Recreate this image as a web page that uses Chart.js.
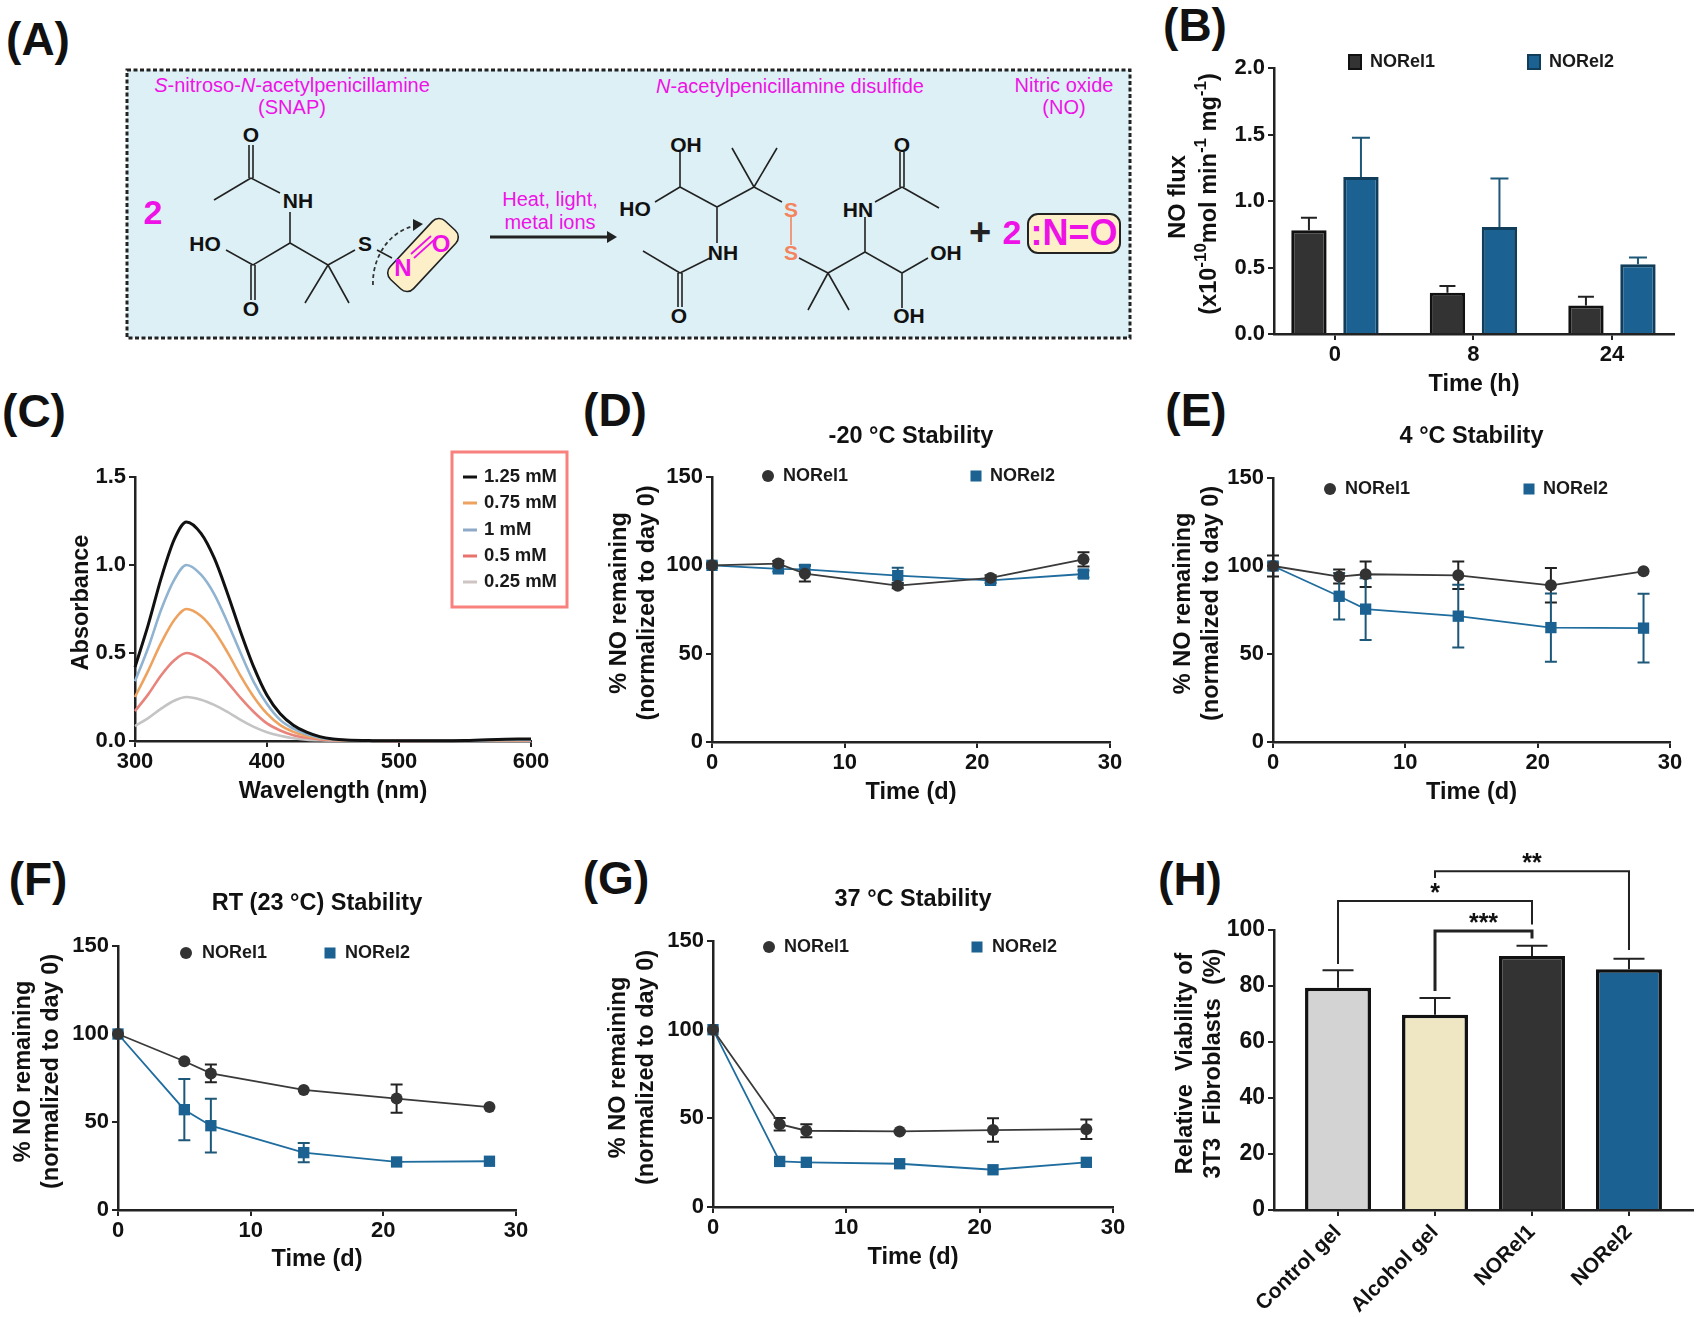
<!DOCTYPE html>
<html>
<head>
<meta charset="utf-8">
<title>NO release panels</title>
<script src="https://cdn.jsdelivr.net/npm/chart.js@4"></script>
<style>
  html, body { margin: 0; background: #fff; }
  #page { position: relative; width: 1697px; height: 1317px; overflow: hidden; }
  canvas { position: absolute; }
  svg { position: absolute; left: 0; top: 0; }
  svg text { font-family: "Liberation Sans", Arial, sans-serif; dominant-baseline: central; text-anchor: middle; }
  .lab { font-size: 46px; font-weight: bold; fill: #111; }
  .pink { font-size: 20px; fill: #ee12e6; }
  .atom { font-size: 21px; font-weight: bold; fill: #111; }
  .big { font-weight: bold; fill: #ee12e6; }
  .bond { stroke: #222; stroke-width: 1.6; fill: none; }
</style>
</head>
<body>
<div id="page">
<svg width="1697" height="1317">
  <text class="lab" x="38" y="39">(A)</text>
  <text class="lab" x="1195" y="25">(B)</text>
  <text class="lab" x="34" y="411">(C)</text>
  <text class="lab" x="615" y="410">(D)</text>
  <text class="lab" x="1196" y="410">(E)</text>
  <text class="lab" x="38" y="879">(F)</text>
  <text class="lab" x="616" y="878">(G)</text>
  <text class="lab" x="1190" y="879">(H)</text>

  <rect x="127" y="70" width="1003" height="268" fill="#dcf0f5" stroke="#222" stroke-width="3" stroke-dasharray="4 2.5"/>
  <text class="pink" x="292" y="85"><tspan font-style="italic">S</tspan>-nitroso-<tspan font-style="italic">N</tspan>-acetylpenicillamine</text>
  <text class="pink" x="292" y="107">(SNAP)</text>
  <text class="pink" x="790" y="86"><tspan font-style="italic">N</tspan>-acetylpenicillamine disulfide</text>
  <text class="pink" x="1064" y="85">Nitric oxide</text>
  <text class="pink" x="1064" y="107">(NO)</text>
  <text class="pink" x="550" y="199">Heat, light,</text>
  <text class="pink" x="550" y="222">metal ions</text>
  <text class="big" font-size="34" x="153" y="212">2</text>

  <!-- SNAP -->
  <rect x="383" y="239" width="80" height="32" rx="9" transform="rotate(-47 423 255)" fill="#fdf0c8" stroke="#222" stroke-width="1.6"/>
  <path class="bond" d="M249 145V178M253 145V178M251 178L214 200M251 178L280 193M290 212V243M290 243L253 265M290 243L328 265M226 250L253 265M251 265V300M255 265V300M328 265L355 250M328 265L305 303M328 265L349 303M377 250L392 258"/>
  <path d="M373 285C372 262 385 232 417 225" stroke="#333" stroke-width="1.8" stroke-dasharray="4 3" fill="none"/>
  <path d="M423 224L413 219V231Z" fill="#222"/>
  <path d="M411 254L431 236M414 258L434 240" stroke="#ee12e6" stroke-width="1.8"/>
  <text class="atom" x="251" y="134">O</text>
  <text class="atom" x="298" y="200">NH</text>
  <text class="atom" x="205" y="243">HO</text>
  <text class="atom" x="251" y="308">O</text>
  <text class="atom" x="365" y="243">S</text>
  <text class="big" font-size="24" x="403" y="267">N</text>
  <text class="big" font-size="24" x="441" y="243">O</text>

  <!-- arrow -->
  <path d="M490 237H610" stroke="#222" stroke-width="3"/>
  <path d="M617 237L607 231V243Z" fill="#222"/>

  <!-- disulfide -->
  <path class="bond" d="M680 152V187M680 187L655 202M680 187L717 207M717 207L754 187M754 187L732 148M754 187L777 148M754 187L782 202M717 207V243M710 258L680 273M680 273L643 251M678 273V307M682 273V307M799 258L828 273M828 273L808 310M828 273L849 310M828 273L865 252M865 252V217M875 202L902 187M902 187L939 208M900 187V152M904 187V152M865 252L902 273M902 273L928 258M902 273V308"/>
  <path d="M791 217V245" stroke="#f4845f" stroke-width="1.6"/>
  <text class="atom" x="686" y="144">OH</text>
  <text class="atom" x="635" y="208">HO</text>
  <text class="atom" x="723" y="252">NH</text>
  <text class="atom" x="679" y="315">O</text>
  <text class="atom" x="791" y="209" style="fill:#f4845f">S</text>
  <text class="atom" x="791" y="252" style="fill:#f4845f">S</text>
  <text class="atom" x="858" y="209">HN</text>
  <text class="atom" x="902" y="144">O</text>
  <text class="atom" x="946" y="252">OH</text>
  <text class="atom" x="909" y="315">OH</text>

  <text font-size="38" font-weight="bold" fill="#222" x="980" y="232">+</text>
  <text class="big" font-size="34" x="1012" y="232">2</text>
  <rect x="1028" y="214" width="92" height="39" rx="10" fill="#fdf0c8" stroke="#222" stroke-width="2"/>
  <text class="big" font-size="36" x="1074" y="232">:N=O</text>
</svg>
</div>

<script>
const FONT = '"Liberation Sans", Arial, sans-serif'
const DARK = '#333333', BLUE = '#1b6191'

// B - NO flux
const fluxTimes = ['0', '8', '24']
const fluxNORel1 = [0.78, 0.31, 0.215]
const fluxNORel1Err = [0.095, 0.05, 0.065]
const fluxNORel2 = [1.18, 0.805, 0.525]
const fluxNORel2Err = [0.295, 0.365, 0.05]

// C - absorbance
const wavelengths = [300, 310, 320, 330, 339, 350, 360, 370, 380, 390, 400, 410, 420, 430, 440, 450, 460, 480, 500, 550, 590, 600]
const abs125 = [.42, .66, .93, 1.15, 1.245, 1.18, 1.04, .84, .62, .42, .26, .155, .09, .05, .025, .012, .006, .002, .001, .003, .012, .012]
const abs100 = [.34, .53, .75, .92, 1.0, .945, .835, .675, .50, .335, .21, .12, .07, .038, .019, .009, .004, .001, .001, .002, .008, .008]
const abs075 = [.25, .40, .56, .69, .75, .71, .625, .505, .37, .25, .155, .09, .052, .028, .014, .007, .003, .001, .001, .002, .005, .006]
const abs050 = [.17, .265, .375, .46, .50, .47, .415, .335, .245, .165, .10, .06, .033, .018, .009, .004, .002, .001, 0, .001, .004, .004]
const abs025 = [.085, .13, .185, .23, .25, .235, .205, .165, .12, .08, .05, .03, .016, .008, .004, .002, .001, 0, 0, .001, .002, .002]

// D to G - stability
const days = [0, 5, 7, 14, 21, 28]
const minus20Rel1 = [100, 101, 95.3, 88.5, 92.9, 103.4]
const minus20Rel1Err = [1.5, 1.5, 4.5, 1.5, 1.5, 4]
const minus20Rel2 = [100, 98, 97.7, 94.2, 91.5, 95.1]
const minus20Rel2Err = [1.5, 1.5, 2.5, 4.5, 1.5, 2]
const fourRel1 = [100, 94, 95.3, 94.7, 89, 97]
const fourRel1Err = [5.9, 4, 7.2, 7.8, 9.8, 0]
const fourRel2 = [100, 82.8, 75.5, 71.5, 65, 64.7]
const fourRel2Err = [2, 13.2, 17.5, 17.8, 19.4, 19.5]
const rtRel1 = [100, 84.5, 77.6, 68.2, 63.3, 58.5]
const rtRel1Err = [0, 0, 5, 0, 8, 0]
const rtRel2 = [100, 57, 47.9, 32.6, 27.3, 27.7]
const rtRel2Err = [0, 17.4, 15.3, 5.5, 0, 0]
const warmRel1 = [100, 46.7, 43, 42.6, 43.4, 43.9]
const warmRel1Err = [0, 3.5, 3.7, 0.5, 6.6, 5.5]
const warmRel2 = [100, 25.7, 25.2, 24.4, 21, 25.2]
const warmRel2Err = [0, 0, 0, 0, 0, 0]

// H - viability
const gels = ['Control gel', 'Alcohol gel', 'NORel1', 'NORel2']
const viability = [79.4, 69.7, 90.7, 86]
const viabilityErr = [6.2, 6, 3.7, 3.7]
const gelColors = ['#d3d3d3', '#efe7c4', DARK, BLUE]
const sigLabels = ['**', '*', '***']
const sigFrom = [1, 0, 1]
const sigTo = [3, 2, 2]
const sigLevel = [121, 110.4, 99.6]
const sigFromEnd = [118.6, 87.9, 78.2]
const sigToEnd = [92.9, 102, 97]

const page = document.getElementById('page')

// error bars, from each dataset's own errors array
const errorBars = {
  id: 'errorBars',
  beforeDatasetsDraw(chart) {
    const ctx = chart.ctx, y = chart.scales.y
    chart.data.datasets.forEach((ds, i) => {
      if (!ds.errors) return
      const meta = chart.getDatasetMeta(i)
      ctx.save()
      ctx.strokeStyle = ds.errorColor
      ctx.lineWidth = 2
      ds.errors.forEach((e, j) => {
        if (!e) return
        const x = meta.data[j].x
        const v = y.getValueForPixel(meta.data[j].y)
        const top = y.getPixelForValue(v + e)
        const bot = ds.upOnly ? meta.data[j].y : y.getPixelForValue(v - e)
        ctx.beginPath()
        ctx.moveTo(x, top); ctx.lineTo(x, bot)
        ctx.moveTo(x - ds.capSize, top); ctx.lineTo(x + ds.capSize, top)
        if (!ds.upOnly) { ctx.moveTo(x - ds.capSize, bot); ctx.lineTo(x + ds.capSize, bot) }
        ctx.stroke()
      })
      ctx.restore()
    })
  }
}

// hand placed legends like the original panels, page coordinates
const floatLegend = {
  id: 'floatLegend',
  afterDraw(chart, args, opts) {
    if (!opts.items) return
    const ctx = chart.ctx
    const ox = chart.canvas.offsetLeft, oy = chart.canvas.offsetTop
    ctx.save()
    if (opts.box) {
      ctx.strokeStyle = '#f8817e'
      ctx.lineWidth = 3
      ctx.strokeRect(opts.box[0] - ox, opts.box[1] - oy, opts.box[2], opts.box[3])
    }
    ctx.font = 'bold ' + opts.size + 'px ' + FONT
    ctx.textBaseline = 'middle'
    opts.items.forEach(it => {
      const mx = it.mx - ox, y = it.y - oy
      ctx.fillStyle = it.color
      if (it.mark === 'circle') {
        ctx.beginPath(); ctx.arc(mx, y, 6, 0, Math.PI * 2); ctx.fill()
      } else if (it.mark === 'square') {
        ctx.fillRect(mx - 5.5, y - 5.5, 11, 11)
      } else if (it.mark === 'bar') {
        ctx.fillRect(mx - 6, y - 7, 12, 14)
        ctx.strokeStyle = it.edge; ctx.lineWidth = 2
        ctx.strokeRect(mx - 6, y - 7, 12, 14)
      } else {
        ctx.strokeStyle = it.color; ctx.lineWidth = 3
        ctx.beginPath(); ctx.moveTo(mx - 7, y); ctx.lineTo(mx + 7, y); ctx.stroke()
      }
      ctx.fillStyle = '#1a1a1a'
      ctx.fillText(it.label, it.tx - ox, y)
    })
    ctx.restore()
  }
}

// significance brackets of panel H
const brackets = {
  id: 'brackets',
  afterDraw(chart) {
    const ctx = chart.ctx, x = chart.scales.x, y = chart.scales.y
    ctx.save()
    ctx.strokeStyle = '#222'
    ctx.fillStyle = '#111'
    ctx.font = 'bold 25px ' + FONT
    ctx.textAlign = 'center'
    ctx.textBaseline = 'middle'
    sigLabels.forEach((s, i) => {
      const a = x.getPixelForValue(sigFrom[i]), b = x.getPixelForValue(sigTo[i])
      const lvl = y.getPixelForValue(sigLevel[i])
      ctx.lineWidth = s === '***' ? 3 : 2
      ctx.beginPath()
      ctx.moveTo(a, y.getPixelForValue(sigFromEnd[i]))
      ctx.lineTo(a, lvl); ctx.lineTo(b, lvl)
      ctx.lineTo(b, y.getPixelForValue(sigToEnd[i]))
      ctx.stroke()
      ctx.fillText(s, (a + b) / 2, lvl - 7)
    })
    ctx.restore()
  }
}

// panel B y title, it needs real superscripts
const fluxTitle = {
  id: 'fluxTitle',
  afterDraw(chart) {
    const ctx = chart.ctx
    const parts = [['(x10'], ['-10', 1], ['mol min'], ['-1', 1], [' mg'], ['-1', 1], [')']]
    const big = 'bold 23.5px ' + FONT, small = 'bold 17px ' + FONT
    let len = 0
    parts.forEach(p => { ctx.font = p[1] ? small : big; len += ctx.measureText(p[0]).width })
    const midY = 194 - chart.canvas.offsetTop
    ctx.save()
    ctx.fillStyle = '#111'
    ctx.textBaseline = 'middle'
    ctx.font = big
    ctx.textAlign = 'center'
    ctx.translate(1179 - chart.canvas.offsetLeft, midY)
    ctx.rotate(-Math.PI / 2)
    ctx.fillText('NO flux', -3, 0)
    ctx.textAlign = 'left'
    let at = -len / 2
    parts.forEach(p => {
      ctx.font = p[1] ? small : big
      ctx.fillText(p[0], at, 31 - (p[1] ? 9 : 0))
      at += ctx.measureText(p[0]).width
    })
    ctx.restore()
  }
}

function axisBits(size) {
  return {
    grid: { offset: false, drawOnChartArea: false, drawTicks: true, tickLength: 6, color: '#222', lineWidth: 2 },
    border: { color: '#222', width: 2.5 },
    font: { family: FONT, weight: 'bold', size: size }
  }
}

// p holds the canvas box (left, top, right, bottom) and the plot box (pl, pt, pr, pb)
function panel(p, type, datasets, xOpts, yOpts, plugins, legend) {
  const c = document.createElement('canvas')
  c.width = p.right - p.left
  c.height = p.bottom - p.top
  c.style.left = p.left + 'px'
  c.style.top = p.top + 'px'
  page.appendChild(c)
  const bits = axisBits(p.tick)
  const titleFont = { family: FONT, weight: 'bold', size: 23.5, lineHeight: 1.2 }
  const scales = {
    x: Object.assign({
      offset: false,
      grid: bits.grid, border: bits.border,
      afterFit: s => { s.height = p.bottom - p.pb }
    }, xOpts),
    y: {
      type: 'linear', min: yOpts.min, max: yOpts.max,
      grid: bits.grid, border: bits.border,
      ticks: { font: bits.font, color: '#111', stepSize: yOpts.step, padding: 3, callback: yOpts.fmt },
      title: {
        display: !!yOpts.title, text: yOpts.title, color: '#111', padding: 0,
        font: titleFont
      },
      afterFit: s => { s.width = p.pl - p.left }
    }
  }
  scales.x.ticks = Object.assign({ font: bits.font, color: '#111', padding: 2, maxRotation: 0, autoSkip: false }, xOpts.ticks)
  if (xOpts.title) scales.x.title = { display: true, text: xOpts.title, color: '#111', padding: 0, font: titleFont }
  let titleOpt = { display: false }
  if (p.heading) {
    const h = 23.5 * 1.2
    titleOpt = {
      display: true, text: p.heading, color: '#111', fullSize: false,
      font: { family: FONT, weight: 'bold', size: 23.5, lineHeight: 1.2 },
      padding: { top: 0, bottom: p.pt - p.top - h }
    }
  }
  new Chart(c, {
    type: type,
    data: { datasets: datasets },
    plugins: plugins,
    options: {
      responsive: false, animation: false, devicePixelRatio: 1,
      layout: { padding: { left: 0, right: p.right - p.pr, top: p.heading ? 0 : p.pt - p.top, bottom: 0 } },
      scales: scales,
      plugins: { legend: { display: false }, tooltip: { enabled: false }, title: titleOpt, floatLegend: legend || {} }
    }
  })
}

const pts = (xs, ys) => ys.map((v, i) => ({ x: xs[i], y: v }))

// B
panel({ left: 1158, top: 40, right: 1697, bottom: 399, pl: 1274, pt: 68, pr: 1674, pb: 334, tick: 22 }, 'bar', [
  { label: 'NORel1', data: pts([0, 1, 2], fluxNORel1), errors: fluxNORel1Err, upOnly: true, capSize: 8, errorColor: '#222',
    backgroundColor: DARK, borderColor: '#111', borderWidth: 3, borderSkipped: 'bottom', categoryPercentage: 0.751, barPercentage: 0.68 },
  { label: 'NORel2', data: pts([0, 1, 2], fluxNORel2), errors: fluxNORel2Err, upOnly: true, capSize: 9, errorColor: '#1d5878',
    backgroundColor: BLUE, borderColor: '#103d5a', borderWidth: 3, borderSkipped: 'bottom', categoryPercentage: 0.751, barPercentage: 0.68 }
], {
  type: 'linear', min: -0.44, max: 2.448,
  afterBuildTicks: s => { s.ticks = fluxTimes.map((t, i) => ({ value: i })) },
  ticks: { callback: v => fluxTimes[v] },
  title: 'Time (h)'
}, { min: 0, max: 2, step: 0.5, fmt: v => v.toFixed(1) }, [errorBars, floatLegend, fluxTitle], {
  size: 18, items: [
    { label: 'NORel1', mark: 'bar', color: DARK, edge: '#111', mx: 1355, tx: 1370, y: 62 },
    { label: 'NORel2', mark: 'bar', color: BLUE, edge: '#103d5a', mx: 1534, tx: 1549, y: 62 }
  ]
})

// C
const absLine = (label, ys, color, w) => ({
  label: label, data: pts(wavelengths, ys), borderColor: color, borderWidth: w,
  pointRadius: 0, cubicInterpolationMode: 'monotone', clip: false
})
panel({ left: 67, top: 440, right: 575, bottom: 806, pl: 135, pt: 477, pr: 531, pb: 741, tick: 22 }, 'line', [
  absLine('1.25 mM', abs125, '#111111', 3),
  absLine('1 mM', abs100, '#8fb3d0', 2.6),
  absLine('0.75 mM', abs075, '#eda35f', 2.6),
  absLine('0.5 mM', abs050, '#e8847c', 2.6),
  absLine('0.25 mM', abs025, '#c4c4c4', 2.6)
], {
  type: 'linear', min: 300, max: 600,
  ticks: { stepSize: 100 },
  title: 'Wavelength (nm)'
}, { min: 0, max: 1.5, step: 0.5, fmt: v => v.toFixed(1), title: '  Absorbance' }, [floatLegend], {
  size: 18.5, box: [452, 452, 115, 155], items: [
    { label: '1.25 mM', mark: 'line', color: '#111111', mx: 470, tx: 484, y: 477 },
    { label: '0.75 mM', mark: 'line', color: '#eda35f', mx: 470, tx: 484, y: 503 },
    { label: '1 mM', mark: 'line', color: '#8fa9c8', mx: 470, tx: 484, y: 530 },
    { label: '0.5 mM', mark: 'line', color: '#e8736c', mx: 470, tx: 484, y: 556 },
    { label: '0.25 mM', mark: 'line', color: '#cfc4c4', mx: 470, tx: 484, y: 582 }
  ]
})

// D to G share everything but the numbers
function stability(p, rel1, rel1Err, rel2, rel2Err, legendAt) {
  const series = (label, ys, errs, style, color, line, errCol, r) => ({
    label: label, data: pts(days, ys), errors: errs, capSize: 6, errorColor: errCol,
    borderColor: line, borderWidth: 1.8, tension: 0, clip: false,
    pointStyle: style, pointRadius: r, pointBackgroundColor: color, pointBorderWidth: 0
  })
  panel(Object.assign({ tick: 22 }, p), 'line', [
    series('NORel1', rel1, rel1Err, 'circle', DARK, '#3a3a3a', '#222', 6),
    series('NORel2', rel2, rel2Err, 'rect', BLUE, '#1f6c9e', '#1d5878', 8)
  ], {
    type: 'linear', min: 0, max: 30,
    ticks: { stepSize: 10 },
    title: 'Time (d)'
  }, {
    min: 0, max: 150, step: 50,
    title: ['  % NO remaining', '  (normalized to day 0)']
  }, [errorBars, floatLegend], {
    size: 18, items: [
      { label: 'NORel1', mark: 'circle', color: DARK, mx: legendAt[0], tx: legendAt[1], y: legendAt[4] },
      { label: 'NORel2', mark: 'square', color: BLUE, mx: legendAt[2], tx: legendAt[3], y: legendAt[4] }
    ]
  })
}
stability({ left: 605, top: 422, right: 1140, bottom: 807, pl: 712, pt: 477, pr: 1110, pb: 742, heading: '-20 °C Stability' },
  minus20Rel1, minus20Rel1Err, minus20Rel2, minus20Rel2Err, [768, 783, 976, 990, 476])
stability({ left: 1169, top: 422, right: 1697, bottom: 807, pl: 1273, pt: 478, pr: 1670, pb: 742, heading: '4 °C Stability' },
  fourRel1, fourRel1Err, fourRel2, fourRel2Err, [1330, 1345, 1529, 1543, 489])
stability({ left: 9, top: 889, right: 546, bottom: 1274, pl: 118, pt: 946, pr: 516, pb: 1210, heading: 'RT (23 °C) Stability' },
  rtRel1, rtRel1Err, rtRel2, rtRel2Err, [186, 202, 330, 345, 953])
stability({ left: 604, top: 885, right: 1143, bottom: 1272, pl: 713, pt: 941, pr: 1113, pb: 1207, heading: '37 °C Stability' },
  warmRel1, warmRel1Err, warmRel2, warmRel2Err, [769, 784, 977, 992, 947])

// H
panel({ left: 1171, top: 845, right: 1697, bottom: 1317, pl: 1274, pt: 930, pr: 1693, pb: 1210, tick: 23 }, 'bar', [
  { label: 'Viability', data: pts([0, 1, 2, 3], viability), errors: viabilityErr, upOnly: true, capSize: 15.5, errorColor: '#222',
    backgroundColor: gelColors, borderColor: '#111', borderWidth: 3.5, borderSkipped: 'bottom', categoryPercentage: 1, barPercentage: 0.68 }
], {
  type: 'linear', min: -0.66, max: 3.66,
  afterBuildTicks: s => { s.ticks = gels.map((g, i) => ({ value: i })) },
  ticks: { callback: v => gels[v], font: { family: FONT, weight: 'bold', size: 21 }, minRotation: 45, maxRotation: 45, padding: 4 }
}, { min: 0, max: 100, step: 20, title: ['  Relative  Viability of', '  3T3  Fibroblasts  (%)'] }, [errorBars, brackets])
</script>
</body>
</html>
